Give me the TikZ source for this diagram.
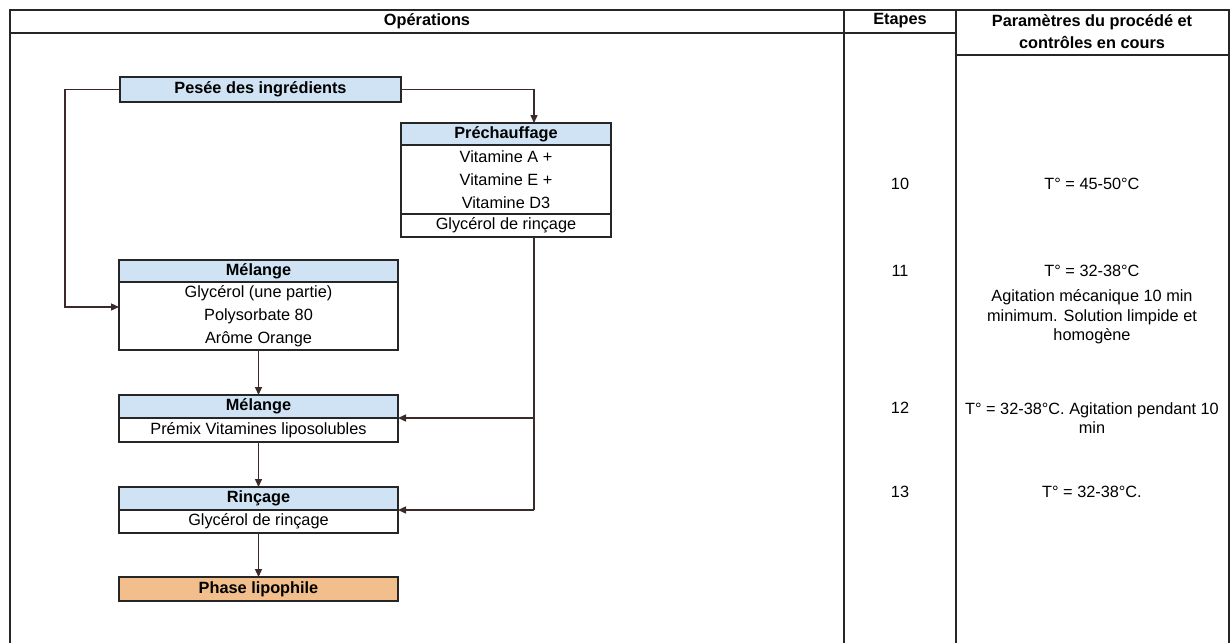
\documentclass[tikz,border=0pt]{standalone}
\usepackage{fontspec}
\setmainfont{Liberation Sans}
\usetikzlibrary{arrows.meta,calc}
\definecolor{hdrblue}{HTML}{D0E3F4}
\definecolor{phaseor}{HTML}{F2BF8C}
\definecolor{conn}{HTML}{3A2A2A}
\begin{document}
\begin{tikzpicture}[x=1pt,y=-1pt,
  every node/.style={inner sep=0pt,outer sep=0pt,font=\fontsize{16.3}{23}\selectfont},
  tbl/.style={line width=2.6pt,black!85},
  boxbase/.style={draw=black!85,line width=2.6pt,minimum width=279pt,align=center},
  hdr/.style={boxbase,fill=hdrblue,font=\fontsize{16.3}{23}\selectfont\bfseries},
  body/.style={boxbase,fill=white},
  phasebox/.style={boxbase,fill=phaseor,font=\fontsize{16.3}{23}\selectfont\bfseries},
  conline/.style={draw=conn,line width=1.4pt},
  arr/.style={conline,-{Triangle[length=8pt,width=7pt]}},
  colhead/.style={font=\fontsize{16.3}{22}\selectfont\bfseries,align=center},
  coltext/.style={font=\fontsize{16.3}{19.5}\selectfont,align=center}
]
\useasboundingbox (0,0) rectangle (1232,643);
\fill[white] (0,0) rectangle (1232,643);
% table
\draw[tbl] (10,643) -- (10,10) -- (1229,10) -- (1229,643);
\draw[tbl] (10,33) -- (956,33);
\draw[tbl] (956,55) -- (1229,55);
\draw[tbl] (844,10) -- (844,643);
\draw[tbl] (956,10) -- (956,643);
\node[colhead] (hop) at (427,21) {Opérations};
\node[colhead] (het) at (900,21) {Etapes};
\node[colhead] (hpa) at (1092,32) {Paramètres du procédé et\\contrôles en cours};
% steps
\node[coltext] (e10) at (900,184) {10};
\node[coltext] (p10) at (1092,184) {T° = 45-50°C};
\node[coltext] (e11) at (900,271) {11};
\node[coltext] (p11) at (1092,271) {T° = 32-38°C};
\node[coltext] (p11b) at (1092,317) {Agitation mécanique 10 min\\minimum. Solution limpide et\\homogène};
\node[coltext] (e12) at (900,408) {12};
\node[coltext] (p12) at (1092,418) {T° = 32-38°C. Agitation pendant 10\\min};
\node[coltext] (e13) at (900,492) {13};
\node[coltext] (p13) at (1092,492) {T° = 32-38°C.};
% boxes
\node[hdr,minimum width=281pt,minimum height=25pt] (pesee) at (260.5,89.5) {Pesée des ingrédients};
\node[hdr,minimum width=210pt,minimum height=22pt] (preH) at (506,134) {Préchauffage};
\node[body,minimum width=210pt,minimum height=69pt] (preB) at (506,179.5) {Vitamine A +\\Vitamine E +\\Vitamine D3};
\node[body,minimum width=210pt,minimum height=23pt] (preG) at (506,225.5) {Glycérol de rinçage};
\node[hdr,minimum height=22pt] (melH) at (258.5,271) {Mélange};
\node[body,minimum height=68pt] (melB) at (258.5,316) {Glycérol (une partie)\\Polysorbate 80\\Arôme Orange};
\node[hdr,minimum height=23pt] (mel2H) at (258.5,406.5) {Mélange};
\node[body,minimum height=24pt] (mel2B) at (258.5,430) {Prémix Vitamines liposolubles};
\node[hdr,minimum height=23pt] (rinH) at (258.5,498.5) {Rinçage};
\node[body,minimum height=23pt] (rinB) at (258.5,521.5) {Glycérol de rinçage};
\node[phasebox,minimum height=24pt] (phase) at (258.5,589) {Phase lipophile};
% connectors
\coordinate (lx) at (65,307);
\coordinate (jx) at (534,0);
\draw[arr] (pesee.west) -| (lx) -- (lx -| melB.west);
\draw[arr] (pesee.east) -| (preH.north -| jx);
\draw[conline] (preG.south -| jx) -- (rinH.south east -| jx);
\draw[arr] (mel2H.south east -| jx) -- (mel2H.south east);
\draw[arr] (rinH.south east -| jx) -- (rinH.south east);
\draw[arr] (melB.south) -- (mel2H.north);
\draw[arr] (mel2B.south) -- (rinH.north);
\draw[arr] (rinB.south) -- (phase.north);
\end{tikzpicture}
\end{document}
